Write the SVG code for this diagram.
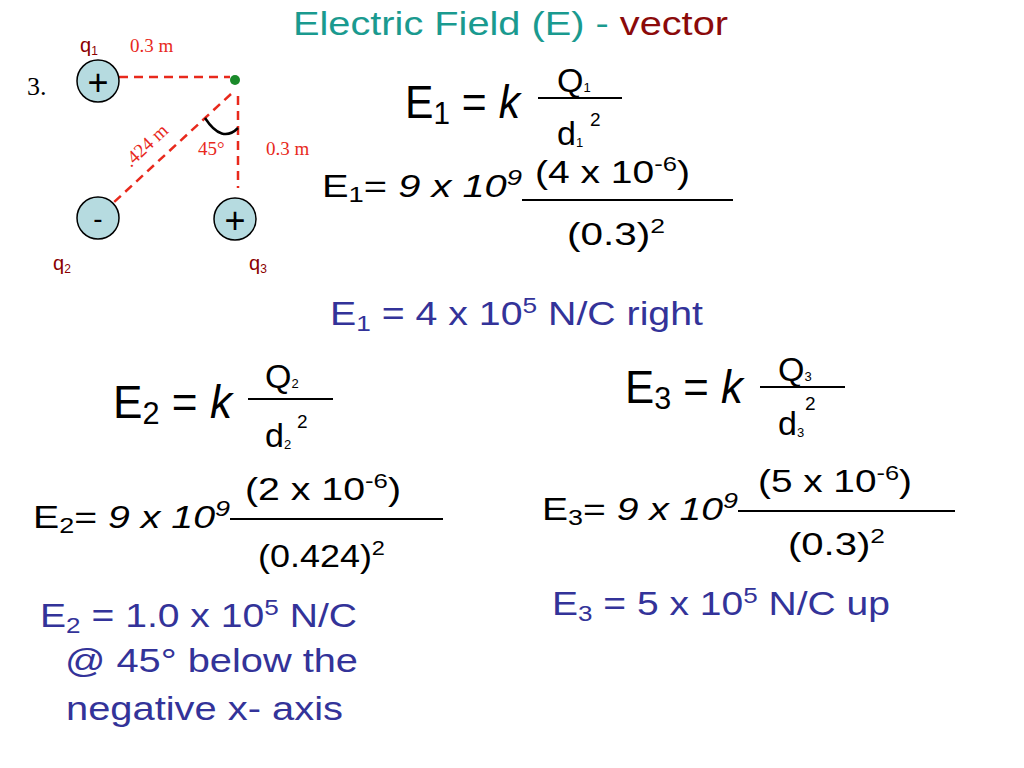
<svg xmlns="http://www.w3.org/2000/svg" width="1024" height="768" viewBox="0 0 1024 768">
<style>
text{font-family:"Liberation Sans",Arial,sans-serif;fill:#000}
.big{font-size:46px}.mid{font-size:34px}.eq{font-size:32px}
.blue{fill:#333399;font-size:33px}
.red{font-family:"Liberation Serif",serif;fill:#e8291c;font-size:19px}
.q{fill:#8b0000;font-size:20px}
.chg{fill:#b6dbe0;stroke:#000;stroke-width:1.5}
.dash{stroke:#e8291c;stroke-width:2.5;stroke-dasharray:9,6;fill:none}
.fl{stroke:#000;stroke-width:2}
</style>
<rect width="1024" height="768" fill="#fff"/>
<text x="293" y="35" textLength="435" lengthAdjust="spacingAndGlyphs" style="font-size:34px;fill:#1a9a8f">Electric Field (E) - <tspan style="fill:#8b0a0a">vector</tspan></text>
<g id="diagram">
<text x="27" y="95" style="font-family:'Liberation Serif',serif;font-size:26px">3.</text>
<g class="connectors">
<line class="dash" x1="119" y1="77" x2="230" y2="77"/>
<line class="dash" x1="238" y1="96" x2="238" y2="188"/>
<line class="dash" x1="231" y1="94" x2="112" y2="204"/>
<path d="M205 118 Q222 144 238 128" fill="none" stroke="#000" stroke-width="2.5"/>
</g>
<circle cx="235" cy="80" r="5" fill="#1a8a2a"/>
<g id="q1"><circle class="chg" cx="98" cy="81" r="21"/><text x="98" y="95" text-anchor="middle" style="font-size:36px">+</text></g>
<g id="q2"><circle class="chg" cx="98" cy="218" r="21"/><text x="98" y="228" text-anchor="middle" style="font-size:28px">-</text></g>
<g id="q3"><circle class="chg" cx="235" cy="219" r="21"/><text x="235" y="233" text-anchor="middle" style="font-size:36px">+</text></g>
<text class="q" x="80" y="52">q<tspan font-size="12" dy="3">1</tspan></text>
<text class="q" x="53" y="270">q<tspan font-size="12" dy="3">2</tspan></text>
<text class="q" x="249" y="270">q<tspan font-size="12" dy="3">3</tspan></text>
<text class="red" x="130" y="52">0.3 m</text>
<text class="red" x="198" y="155">45°</text>
<text class="red" x="266" y="155">0.3 m</text>
<text class="red" x="150" y="150" text-anchor="middle" transform="rotate(-43 150 150)">.424 m</text>
</g>
<g id="eq1">
<text class="big" x="405" y="118" textLength="115" lengthAdjust="spacingAndGlyphs">E<tspan font-size="32" dy="6">1</tspan><tspan dy="-6"> = </tspan><tspan font-style="italic">k</tspan></text>
<text class="mid" x="557" y="92">Q<tspan font-size="13">1</tspan></text>
<line class="fl" x1="538" y1="98" x2="622" y2="98"/>
<text class="mid" x="557" y="145">d<tspan font-size="13" dy="2">1</tspan></text>
<text x="590" y="126" style="font-size:19px">2</text>
<text class="eq" x="322" y="197" textLength="200" lengthAdjust="spacingAndGlyphs">E<tspan font-size="22" dy="5">1</tspan><tspan dy="-5">= </tspan><tspan font-style="italic">9 x 10<tspan font-size="22" dy="-12">9</tspan></tspan></text>
<line class="fl" x1="522" y1="200" x2="733" y2="200"/>
<text class="eq" x="535" y="183" textLength="155" lengthAdjust="spacingAndGlyphs">(4 x 10<tspan font-size="21" dy="-12">-6</tspan><tspan dy="12">)</tspan></text>
<text class="eq" x="567" y="245" textLength="98" lengthAdjust="spacingAndGlyphs">(0.3)<tspan font-size="21" dy="-12">2</tspan></text>
<text class="blue" x="330" y="325" textLength="373" lengthAdjust="spacingAndGlyphs">E<tspan font-size="22" dy="6">1</tspan><tspan dy="-6"> = 4 x 10</tspan><tspan font-size="22" dy="-12">5</tspan><tspan dy="12"> N/C right</tspan></text>
</g>
<g id="eq2">
<text class="big" x="113" y="418" textLength="119" lengthAdjust="spacingAndGlyphs">E<tspan font-size="32" dy="6">2</tspan><tspan dy="-6"> = </tspan><tspan font-style="italic">k</tspan></text>
<text class="mid" x="265" y="388">Q<tspan font-size="13">2</tspan></text>
<line class="fl" x1="248" y1="399" x2="333" y2="399"/>
<text class="mid" x="265" y="447">d<tspan font-size="13" dy="2">2</tspan></text>
<text x="297" y="428" style="font-size:19px">2</text>
<text class="eq" x="33" y="528" textLength="197" lengthAdjust="spacingAndGlyphs">E<tspan font-size="22" dy="5">2</tspan><tspan dy="-5">= </tspan><tspan font-style="italic">9 x 10<tspan font-size="22" dy="-12">9</tspan></tspan></text>
<line class="fl" x1="230" y1="519" x2="443" y2="519"/>
<text class="eq" x="245" y="500" textLength="156" lengthAdjust="spacingAndGlyphs">(2 x 10<tspan font-size="21" dy="-12">-6</tspan><tspan dy="12">)</tspan></text>
<text class="eq" x="258" y="567" textLength="127" lengthAdjust="spacingAndGlyphs">(0.424)<tspan font-size="21" dy="-12">2</tspan></text>
<text class="blue" x="40" y="627" textLength="317" lengthAdjust="spacingAndGlyphs">E<tspan font-size="22" dy="6">2</tspan><tspan dy="-6"> = 1.0 x 10</tspan><tspan font-size="22" dy="-12">5</tspan><tspan dy="12"> N/C</tspan></text>
<text class="blue" x="65" y="672" textLength="293" lengthAdjust="spacingAndGlyphs">@ 45° below the</text>
<text class="blue" x="66" y="720" textLength="277" lengthAdjust="spacingAndGlyphs">negative x- axis</text>
</g>
<g id="eq3">
<text class="big" x="625" y="403" textLength="118" lengthAdjust="spacingAndGlyphs">E<tspan font-size="32" dy="6">3</tspan><tspan dy="-6"> = </tspan><tspan font-style="italic">k</tspan></text>
<text class="mid" x="778" y="381">Q<tspan font-size="13">3</tspan></text>
<line class="fl" x1="760" y1="387" x2="845" y2="387"/>
<text class="mid" x="778" y="435">d<tspan font-size="13" dy="2">3</tspan></text>
<text x="805" y="410" style="font-size:19px">2</text>
<text class="eq" x="542" y="520" textLength="196" lengthAdjust="spacingAndGlyphs">E<tspan font-size="22" dy="5">3</tspan><tspan dy="-5">= </tspan><tspan font-style="italic">9 x 10<tspan font-size="22" dy="-12">9</tspan></tspan></text>
<line class="fl" x1="738" y1="511" x2="955" y2="511"/>
<text class="eq" x="758" y="492" textLength="154" lengthAdjust="spacingAndGlyphs">(5 x 10<tspan font-size="21" dy="-12">-6</tspan><tspan dy="12">)</tspan></text>
<text class="eq" x="788" y="555" textLength="97" lengthAdjust="spacingAndGlyphs">(0.3)<tspan font-size="21" dy="-12">2</tspan></text>
<text class="blue" x="552" y="615" textLength="338" lengthAdjust="spacingAndGlyphs">E<tspan font-size="22" dy="6">3</tspan><tspan dy="-6"> = 5 x 10</tspan><tspan font-size="22" dy="-12">5</tspan><tspan dy="12"> N/C up</tspan></text>
</g>
</svg>
